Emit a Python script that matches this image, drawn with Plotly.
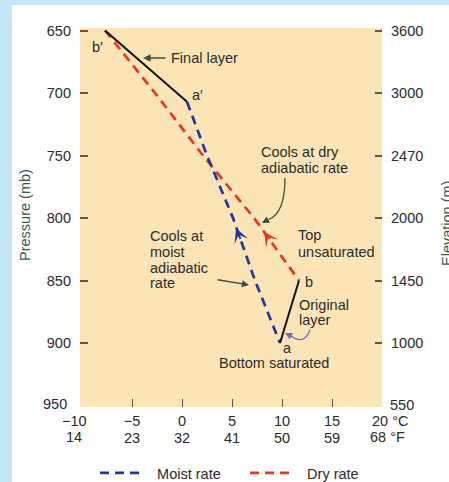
import plotly.graph_objects as go

# ---- data -------------------------------------------------------------
celsius_ticks = [-10, -5, 0, 5, 10, 15, 20]
fahrenheit_labels = ["14", "23", "32", "41", "50", "59", "68"]
pressure_ticks = [650, 700, 750, 800, 850, 900, 950]
elevation_labels = ["3600", "3000", "2470", "2000", "1450", "1000", "550"]

# moist adiabat followed by the saturated bottom of the layer (a -> a')
moist_T = [0.5, 2.5, 5.1, 7.3, 9.8]
moist_p = [707, 750, 800, 850, 900]

# dry adiabat followed by the unsaturated top of the layer (b -> b')
dry_T = [-7.7, -2.7, 2.1, 7.2, 11.7]
dry_p = [650, 700, 750, 800, 850]

# layer before and after lifting
final_T = [-7.7, 0.5]
final_p = [650, 707]
orig_T = [9.8, 11.7]
orig_p = [900, 850]

# ---- styling ----------------------------------------------------------
FONT = "Liberation Sans, Arial, sans-serif"
TXT = "#2b2b2b"
BLUE = "#23389e"
RED = "#ea3420"
BEIGE = "#fbe5b7"
SKY = "#c4e6f7"
TICK_Y = "#7e4a42"
FS = 14.5
NB = "\u00a0"
DASH = "9px,6px"

W, H = 449, 482
PL, PR, PT, PB = 80, 382, 28, 407


def px_x(px):
    return (px - PL) / (PR - PL)


def px_y(py):
    return (PB - py) / (PB - PT)


fig = go.Figure()

fig.add_trace(go.Scatter(x=dry_T, y=dry_p, mode="lines", name=NB * 3 + "Dry rate",
                         line=dict(color=RED, width=2.7, dash=DASH)))
fig.add_trace(go.Scatter(x=moist_T, y=moist_p, mode="lines", name=NB * 3 + "Moist rate",
                         line=dict(color=BLUE, width=2.7, dash=DASH)))
fig.add_trace(go.Scatter(x=final_T, y=final_p, mode="lines", showlegend=False,
                         line=dict(color="#111111", width=2)))
fig.add_trace(go.Scatter(x=orig_T, y=orig_p, mode="lines", showlegend=False,
                         line=dict(color="#111111", width=2)))
# empty traces so the secondary axes get drawn
fig.add_trace(go.Scatter(x=[None], y=[None], xaxis="x2", yaxis="y", showlegend=False, hoverinfo="skip"))
fig.add_trace(go.Scatter(x=[None], y=[None], xaxis="x", yaxis="y2", showlegend=False, hoverinfo="skip"))

inner_T = celsius_ticks[1:-1]
inner_p = pressure_ticks[:-1]

axis_font = dict(family=FONT, size=FS, color=TXT)
fig.update_layout(
    width=W, height=H, autosize=False,
    margin=dict(l=PL, r=W - PR, t=PT, b=H - PB, pad=0, autoexpand=False),
    paper_bgcolor="white", plot_bgcolor=BEIGE,
    font=dict(family=FONT, size=FS, color=TXT),
    xaxis=dict(range=[-10.2, 20.0], tickvals=inner_T,
               ticktext=["\u22125", "0", "5", "10", "15"],
               ticks="inside", ticklen=8, tickwidth=1.3, tickcolor="#555555",
               showgrid=False, zeroline=False, showline=False,
               tickfont=axis_font, ticklabelstandoff=3),
    xaxis2=dict(range=[-10.2, 20.0], overlaying="x", anchor="y", side="bottom",
                tickvals=inner_T, ticktext=fahrenheit_labels[1:-1], ticks="",
                showgrid=False, zeroline=False, showline=False,
                tickfont=axis_font, ticklabelstandoff=20),
    yaxis=dict(range=[951.2, 648], tickvals=inner_p,
               ticktext=[str(p) for p in inner_p],
               ticks="inside", ticklen=8, tickwidth=1.5, tickcolor=TICK_Y,
               showgrid=False, zeroline=False, showline=False,
               tickfont=axis_font, ticklabelstandoff=8),
    yaxis2=dict(range=[951.2, 648], overlaying="y", anchor="x", side="right",
                tickvals=inner_p, ticktext=elevation_labels[:-1],
                ticks="inside", ticklen=7, tickwidth=1.5, tickcolor=TICK_Y,
                showgrid=False, zeroline=False, showline=False,
                tickfont=axis_font, ticklabelstandoff=8),
    legend=dict(orientation="h", x=px_x(95), xanchor="left",
                y=px_y(473), yanchor="middle", traceorder="reversed",
                itemwidth=40, entrywidth=95, entrywidthmode="pixels",
                font=dict(family=FONT, size=FS, color=TXT),
                bgcolor="rgba(0,0,0,0)"),
)

# sky-blue border strips behind the white panel
fig.add_shape(type="rect", xref="paper", yref="paper", layer="below",
              x0=px_x(0), x1=px_x(12), y0=px_y(H), y1=px_y(0),
              fillcolor=SKY, line_width=0)
fig.add_shape(type="rect", xref="paper", yref="paper", layer="below",
              x0=px_x(0), x1=px_x(W), y0=px_y(5), y1=px_y(0),
              fillcolor=SKY, line_width=0)


def label(text, x, y, anchor="left", xref="x", yref="y", color=TXT, size=FS, angle=0):
    fig.add_annotation(text=text, x=x, y=y, xref=xref, yref=yref, xanchor=anchor,
                       yanchor="middle", showarrow=False, textangle=angle,
                       borderpad=0,
                       font=dict(family=FONT, size=size, color=color))


def arrow(x, y, ax, ay, color, width=1.4, head=2, size=1.0):
    fig.add_annotation(text="", x=x, y=y, ax=ax, ay=ay, xref="x", yref="y",
                       axref="x", ayref="y", showarrow=True, arrowhead=head,
                       arrowsize=size, arrowwidth=width, arrowcolor=color)


# corner tick labels
label("\u221210", px_x(74), px_y(421), "center", "paper", "paper")
label("14", px_x(74), px_y(437), "center", "paper", "paper")
label("20 \u00b0C", px_x(390), px_y(421), "center", "paper", "paper")
label("68 \u00b0F", px_x(387), px_y(437), "center", "paper", "paper")
label("950", px_x(68), px_y(404), "right", "paper", "paper")
label("550", px_x(389), px_y(405), "left", "paper", "paper")

# axis titles
label("Pressure (mb)", px_x(25), px_y(215), "center", "paper", "paper",
      color="#345c48", angle=-90)
label("Elevation (m)", px_x(447), px_y(224), "center", "paper", "paper",
      color="#345c48", angle=-90)

# point labels
label("b\u2032", -8.5, 663, "center")
label("a\u2032", 1.5, 701.6, "center")
label("b", 12.7, 851.2, "center")
label("a", 10.5, 904, "center")

# descriptive text
label("Final layer", -1.2, 672)
label("Cools at dry", 7.8, 747.2)
label("adiabatic rate", 7.8, 759.6)
label("Top", 11.5, 813.6)
label("unsaturated", 11.5, 827.2)
label("Cools at", -3.3, 814.4)
label("moist", -3.3, 827.2)
label("adiabatic", -3.3, 840.0)
label("rate", -3.3, 852.0)
label("Original", 11.6, 869.6)
label("layer", 11.6, 881.6)
label("Bottom saturated", 9.15, 916, "center")

# pointer arrows
arrow(-3.9, 672, -1.5, 672, "#3c4d42", width=1.4, head=2, size=1.1)
arrow(6.7, 853.6, 3.4, 849.2, "#3c4d42", width=1.3, head=2, size=1.1)
fig.add_shape(type="path", xref="x", yref="y",
              path="M 10.3,768 Q 10.3,796 8.7,801",
              line=dict(color="#3c4d42", width=1.3))
arrow(8.0, 804, 8.8, 800.6, "#3c4d42", width=1.3, head=2, size=1.1)
fig.add_shape(type="path", xref="x", yref="y",
              path="M 12.8,889.6 Q 12.2,902 10.9,894.4",
              line=dict(color="#6f6fb8", width=1.3))
arrow(10.3, 892, 10.9, 894.4, "#6f6fb8", width=1.3, head=2, size=1.1)

# direction-of-lift arrowheads on the adiabats
arrow(5.4, 808, 5.9, 818, BLUE, width=2, head=3, size=1.2)
arrow(8.2, 811, 8.8, 818, RED, width=2, head=3, size=1.2)

fig.write_html("out.html")
